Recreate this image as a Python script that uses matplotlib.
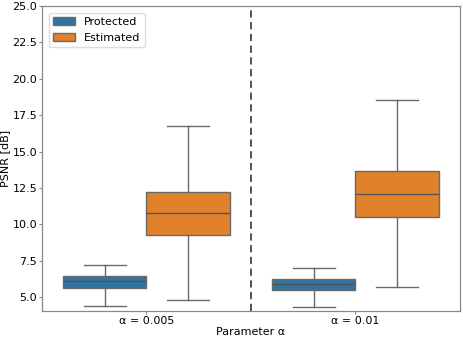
import matplotlib
matplotlib.use("Agg")
import matplotlib.pyplot as plt
from matplotlib.patches import Patch

groups = ["α = 0.005", "α = 0.01"]
series = ["Protected", "Estimated"]
colors = ["#3274a1", "#e1812c"]

# [whislo, q1, med, q3, whishi] per group for each series
protected = [[4.40, 5.62, 6.10, 6.42, 7.20],
             [4.29, 5.48, 5.89, 6.24, 7.01]]
estimated = [[4.77, 9.24, 10.75, 12.24, 16.75],
             [5.67, 10.50, 12.08, 13.66, 18.54]]

fig = plt.figure(figsize=(4.63, 3.38), dpi=100)
ax = fig.add_axes([0.0907, 0.080, 0.9028, 0.902])

linecol = "#6a6a6a"
width = 0.4
offsets = [-0.2, 0.2]
for s, (data, col, off) in enumerate(zip([protected, estimated], colors, offsets)):
    stats = []
    for vals in data:
        lo, q1, med, q3, hi = vals
        stats.append(dict(whislo=lo, q1=q1, med=med, q3=q3, whishi=hi, fliers=[]))
    pos = [i + off for i in range(len(groups))]
    ax.bxp(stats, positions=pos, widths=width, patch_artist=True, showfliers=False,
           boxprops=dict(facecolor=col, edgecolor=linecol, linewidth=1.0),
           whiskerprops=dict(color=linecol, linewidth=1.0),
           capprops=dict(color=linecol, linewidth=1.0),
           medianprops=dict(color="#555555", linewidth=1.0),
           capwidths=0.2)

ax.axvline(0.5, color="#444444", linestyle=(0, (4, 2.5)), linewidth=1.3)

ax.set_xlim(-0.5, 1.5)
ax.set_ylim(4.05, 25)
ax.set_xticks(range(len(groups)))
ax.set_xticklabels(groups)
ax.set_yticks([5.0, 7.5, 10.0, 12.5, 15.0, 17.5, 20.0, 22.5, 25.0])
ax.set_yticklabels(["5.0", "7.5", "10.0", "12.5", "15.0", "17.5", "20.0", "22.5", "25.0"])
ax.tick_params(labelsize=8, length=2, pad=1.5, color="#888888")
for sp in ax.spines.values():
    sp.set_color("#888888")
    sp.set_linewidth(0.9)

ax.set_xlabel("Parameter α", fontsize=8, labelpad=0.5)
ax.set_ylabel("PSNR [dB]", fontsize=8, labelpad=1.5)

handles = [Patch(facecolor=c, edgecolor=linecol, label=l) for c, l in zip(colors, series)]
ax.legend(handles=handles, loc="upper left", fontsize=8, framealpha=1,
          edgecolor="#dddddd", borderaxespad=0.6)

fig.savefig("out.png", dpi=100)
